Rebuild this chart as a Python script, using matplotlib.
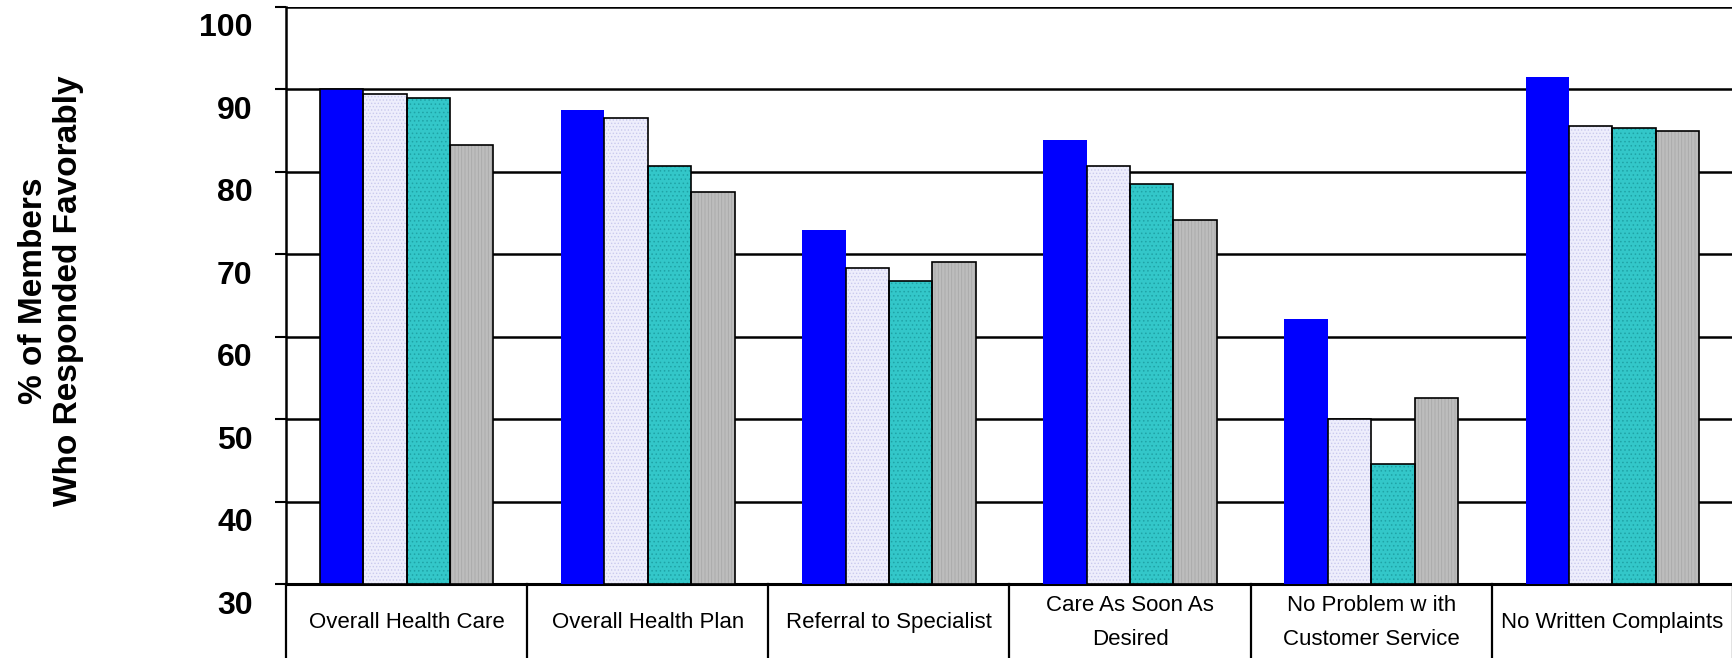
import numpy as np
import matplotlib.pyplot as plt
from matplotlib.transforms import ScaledTranslation

plt.rcParams['font.family'] = ['Liberation Sans', 'DejaVu Sans']
plt.rcParams['hatch.linewidth'] = 0.6

# survey measures and four comparison groups
categories = ['Overall Health Care', 'Overall Health Plan', 'Referral to Specialist',
              'Care As Soon As\nDesired', 'No Problem w ith\nCustomer Service',
              'No Written Complaints']
series_a = [90.0, 87.5, 72.9, 83.9, 62.1, 91.5]
series_b = [89.4, 86.5, 68.3, 80.7, 50.0, 85.6]
series_c = [88.9, 80.7, 66.8, 78.5, 44.6, 85.3]
series_d = [83.3, 77.6, 69.1, 74.2, 52.6, 85.0]
yticks = [30, 40, 50, 60, 70, 80, 90, 100]

fig = plt.figure(figsize=(17.33, 6.58), dpi=100)
ax = fig.add_axes([286/1733, 74/658, 1 - 286/1733, 577/658])

x = np.arange(len(categories))
w = 0.18
styles = [
    (series_a, '#0000FF', None, '#0000FF'),
    (series_b, '#EEEEFC', '.....', '#C9C9EE'),
    (series_c, '#33C7C9', '....', '#1FA3A6'),
    (series_d, '#BDBDBD', '|||||', '#A9A9A9'),
]
for i, (vals, fc, hatch, hc) in enumerate(styles):
    pos = x + (i - 1.5) * w
    heights = np.array(vals) - 30
    ax.bar(pos, heights, w, bottom=30, color=fc, edgecolor=hc, hatch=hatch,
           linewidth=0, zorder=3)
    if i == 0:
        # only the first blue bar carries an outline
        ax.bar(pos[:1], heights[:1], w, bottom=30, fill=False, edgecolor='black',
               linewidth=1.2, zorder=4)
    else:
        ax.bar(pos, heights, w, bottom=30, fill=False, edgecolor='black',
               linewidth=1.2, zorder=4)

ax.set_xlim(-0.5, len(categories) - 0.5)
ax.set_ylim(30, 100)
ax.set_yticks(yticks)
ax.set_yticklabels([str(t) for t in yticks], fontsize=23, fontweight='bold')
ax.tick_params(axis='y', direction='out', length=8, width=1.5, pad=16)
ax.tick_params(axis='x', bottom=False, labelbottom=False)
ax.grid(axis='y', color='black', linewidth=1.8, zorder=1)
for lab in ax.get_yticklabels():
    lab.set_transform(lab.get_transform() + ScaledTranslation(0, -18/100, fig.dpi_scale_trans))

for s in ['top', 'right']:
    ax.spines[s].set_visible(False)
ax.spines['left'].set_linewidth(1.8)
ax.spines['bottom'].set_linewidth(2.2)

# boxed category labels under the axis
for k in range(len(categories) + 1):
    ax.plot([k - 0.5, k - 0.5], [30, 18], color='black', linewidth=1.6,
            clip_on=False, zorder=5)
for k, name in enumerate(categories):
    ax.text(k, 25.3, name, ha='center', va='center', fontsize=16,
            linespacing=1.8, clip_on=False)

fig.text(51/1733, 1 - 291/658, '% of Members\nWho Responded Favorably', rotation=90,
         ha='center', va='center', fontsize=24, fontweight='bold', linespacing=1.15)

fig.savefig('out.png', dpi=100)
